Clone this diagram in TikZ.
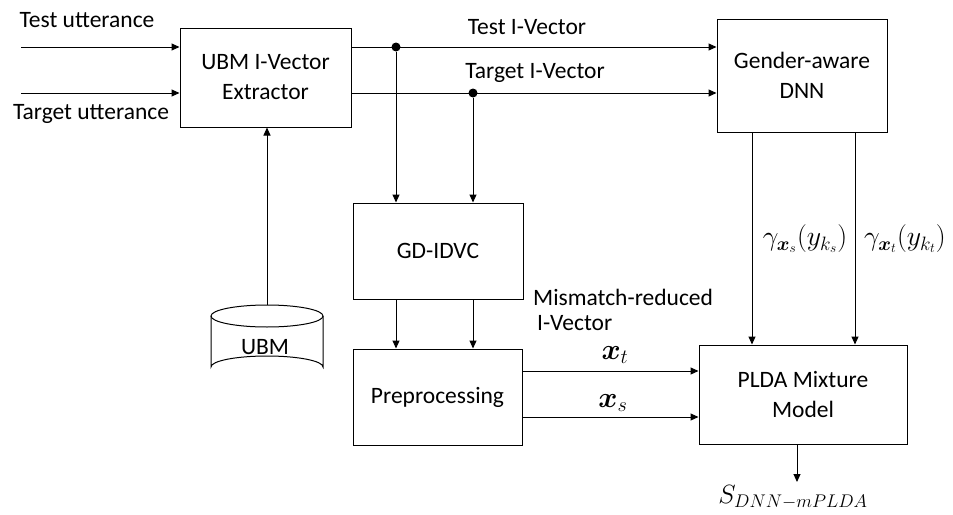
\documentclass[tikz,border=0pt]{standalone}
\usepackage{graphicx}
\usepackage{amsmath,bm}
\usepackage{fontspec}
\setmainfont{Carlito}
\usetikzlibrary{arrows.meta}
\newcommand{\bigmath}[2]{\scalebox{#1}{$#2$}}
\begin{document}
\begin{tikzpicture}[x=1pt,y=-1pt,
  font=\fontsize{23.5}{30}\selectfont,
  box/.style={draw,line width=1pt,align=center,inner sep=0pt},
  arr/.style={line width=1pt,-{Triangle[length=8pt,width=7pt]}},
  ln/.style={line width=1pt},
  dot/.style={circle,fill,inner sep=0pt,minimum size=9pt},
  lbl/.style={inner sep=0pt}]
\useasboundingbox (0,0) rectangle (953,514);
% boxes
\node[box,minimum width=171,minimum height=99] (ubm) at (265.5,77.5) {UBM I-Vector\\Extractor};
\node[box,minimum width=170,minimum height=113] (gen) at (802,75.5) {Gender-aware\\DNN};
\node[box,minimum width=170,minimum height=96] (gd) at (438,251) {GD-IDVC};
\node[box,minimum width=169,minimum height=96] (pre) at (437.5,397) {Preprocessing};
\node[box,minimum width=208,minimum height=99] (plda) at (803,394.5) {PLDA Mixture\\Model};
% cylinder
\draw[ln] (211,316) -- (211,367) arc[start angle=180,end angle=360,x radius=56,y radius=11] -- (323,316);
\draw[ln] (267,316) ellipse[x radius=56,y radius=11];
\coordinate (cyltop) at (267,305);
\node[lbl] (ubmdb) at (265,347) {UBM};
% inputs
\coordinate (in1) at (21,47);
\coordinate (in2) at (21,93);
\draw[arr] (in1) -- (in1 -| ubm.west);
\draw[arr] (in2) -- (in2 -| ubm.west);
\node[lbl] (lt) at (87,20) {Test utterance};
\node[lbl] (lg) at (91,114) {Target utterance};
% outputs of UBM
\node[dot] (d1) at (396,47) {};
\node[dot] (d2) at (473,93) {};
\draw[arr] (in1 -| ubm.east) -- (in1 -| gen.west);
\draw[arr] (in2 -| ubm.east) -- (in2 -| gen.west);
\node[lbl] (ltv) at (527,27) {Test I-Vector};
\node[lbl] (lgv) at (535,73) {Target I-Vector};
\draw[arr] (d1) -- (d1 |- gd.north);
\draw[arr] (d2) -- (d2 |- gd.north);
\draw[arr] (d1 |- gd.south) -- (d1 |- pre.north);
\draw[arr] (d2 |- gd.south) -- (d2 |- pre.north);
% UBM db to extractor
\draw[arr] (cyltop) -- (cyltop |- ubm.south);
% preprocessing to PLDA
\coordinate (xt) at (0,371);
\coordinate (xs) at (0,417);
\draw[arr] (xt -| pre.east) -- (xt -| plda.west);
\draw[arr] (xs -| pre.east) -- (xs -| plda.west);
\node[lbl,anchor=north west,align=left,font=\fontsize{23.5}{25}\selectfont] (mm) at (533,289) {Mismatch-reduced\\\,I-Vector};
\node[lbl] (lxt) at (615,355) {\bigmath{1.17}{\bm{x}_t}};
\node[lbl] (lxs) at (613,403) {\bigmath{1.17}{\bm{x}_s}};
% gender to PLDA
\coordinate (g1) at (752,0);
\coordinate (g2) at (855,0);
\draw[arr] (g1 |- gen.south) -- (g1 |- plda.north);
\draw[arr] (g2 |- gen.south) -- (g2 |- plda.north);
\node[lbl] (lgs) at (805,239) {\bigmath{1.12}{\gamma_{\bm{x}_s}(y_{k_s})}};
\node[lbl] (lgt) at (905,239) {\bigmath{1.12}{\gamma_{\bm{x}_t}(y_{k_t})}};
% output
\coordinate (out) at (797,482);
\draw[arr] (plda.south -| out) -- (out);
\node[lbl] (score) at (793,497) {\bigmath{1.06}{S_{DNN-mPLDA}}};
\end{tikzpicture}
\end{document}
